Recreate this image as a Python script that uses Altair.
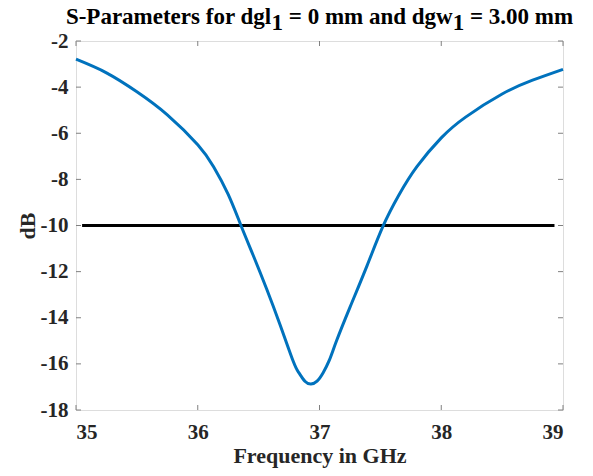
import altair as alt
import pandas as pd

freq = [35.0, 35.25, 35.5, 35.75, 36.0, 36.13, 36.25, 36.355, 36.456, 36.566, 36.676,
        36.785, 36.83, 36.88, 36.93, 36.98, 37.03, 37.08, 37.14, 37.25, 37.39, 37.52,
        37.65, 37.8, 38.0, 38.2, 38.5, 38.75, 39.0]
s11 = [-2.79, -3.38, -4.20, -5.20, -6.50, -7.45, -8.65, -10.0, -11.3, -12.75, -14.3,
       -15.9, -16.38, -16.75, -16.87, -16.75, -16.38, -15.85, -15.0, -13.55, -11.75, -10.05,
       -8.7, -7.45, -6.2, -5.3, -4.3, -3.7, -3.23]
ref_freq = [35.05, 38.93]
ref_db = [-10, -10]
x_ticks = [35, 36, 37, 38, 39]
y_ticks = [-18, -16, -14, -12, -10, -8, -6, -4, -2]
# title pieces: main text and subscripts (as MATLAB renders dgl_1 / dgw_1)
title_parts = ["S-Parameters for dgl", "1", "= 0 mm and dgw", "1", "= 3.00 mm"]

W, H = 487, 369
FONT = "Liberation Serif"
GRAY = "#808080"
TXT = "#262626"
TFS = 23
# advance widths (em) of the title pieces in Times/Liberation Serif Bold, and leading gaps
part_em = [8.942, 0.5, 7.126, 0.5, 4.486]
part_gap = [0, 0, 0.25, 0, 0.25]
part_dy = [0, 6, 0, 6, 0]

curve = pd.DataFrame({"f": freq, "db": s11})
ref = pd.DataFrame({"f": ref_freq, "db": ref_db})
xt = pd.DataFrame({"t": x_ticks})
yt = pd.DataFrame({"t": y_ticks})

xs = alt.Scale(domain=[35, 39], nice=False, zero=False)
ys = alt.Scale(domain=[-18, -2], nice=False, zero=False)

x_axis = alt.Axis(values=x_ticks, ticks=False, domain=False, grid=False,
                  labelExpr="'' + datum.value",
                  labelFont=FONT, labelFontSize=21, labelFontWeight="bold", labelColor=TXT,
                  labelPadding=11, title="Frequency in GHz", titleFont=FONT, titleFontSize=22,
                  titleFontWeight="bold", titleColor=TXT, titleY=52, titleBaseline="alphabetic")
y_axis = alt.Axis(values=y_ticks, ticks=False, domain=False, grid=False,
                  labelExpr="'' + datum.value",
                  labelFont=FONT, labelFontSize=21, labelFontWeight="bold", labelColor=TXT,
                  labelPadding=8, title="dB", titleFont=FONT, titleFontSize=22,
                  titleFontWeight="bold", titleColor=TXT, titleX=-49, titleY=H / 2,
                  titleAngle=-90, titleBaseline="middle", titleAlign="center")

line = alt.Chart(curve).mark_line(color="#0072BD", strokeWidth=3, interpolate="natural").encode(
    x=alt.X("f:Q", scale=xs, axis=x_axis),
    y=alt.Y("db:Q", scale=ys, axis=y_axis),
)
refline = alt.Chart(ref).mark_line(color="black", strokeWidth=3).encode(
    x=alt.X("f:Q", scale=xs), y=alt.Y("db:Q", scale=ys)
)
tb = alt.Chart(xt).mark_rule(color=GRAY, strokeWidth=1).encode(
    x=alt.X("t:Q", scale=xs), y=alt.value(H), y2=alt.value(H - 5))
tt = alt.Chart(xt).mark_rule(color=GRAY, strokeWidth=1).encode(
    x=alt.X("t:Q", scale=xs), y=alt.value(0), y2=alt.value(5))
tl = alt.Chart(yt).mark_rule(color=GRAY, strokeWidth=1).encode(
    y=alt.Y("t:Q", scale=ys), x=alt.value(0), x2=alt.value(5))
tr = alt.Chart(yt).mark_rule(color=GRAY, strokeWidth=1).encode(
    y=alt.Y("t:Q", scale=ys), x=alt.value(W), x2=alt.value(W - 5))

total = (sum(part_em) + sum(part_gap)) * TFS
x0 = W / 2 - total / 2
title_layers = []
for txt, em, gap, dy in zip(title_parts, part_em, part_gap, part_dy):
    x0 += gap * TFS
    title_layers.append(
        alt.Chart(pd.DataFrame({"txt": [txt]})).mark_text(
            font=FONT, fontSize=TFS, fontWeight="bold", color="black",
            align="left", baseline="alphabetic").encode(
            text="txt:N", x=alt.value(x0), y=alt.value(-17 + dy))
    )
    x0 += em * TFS

chart = alt.layer(refline, line, tb, tt, tl, tr, *title_layers).properties(
    width=W, height=H,
    padding={"left": 68, "top": 33, "right": 22, "bottom": 58},
    autosize=alt.AutoSizeParams(type="none"),
).configure_view(stroke=GRAY, strokeWidth=1).configure(background="white")

chart.save("out.html", embed_options={"renderer": "svg", "actions": False})
